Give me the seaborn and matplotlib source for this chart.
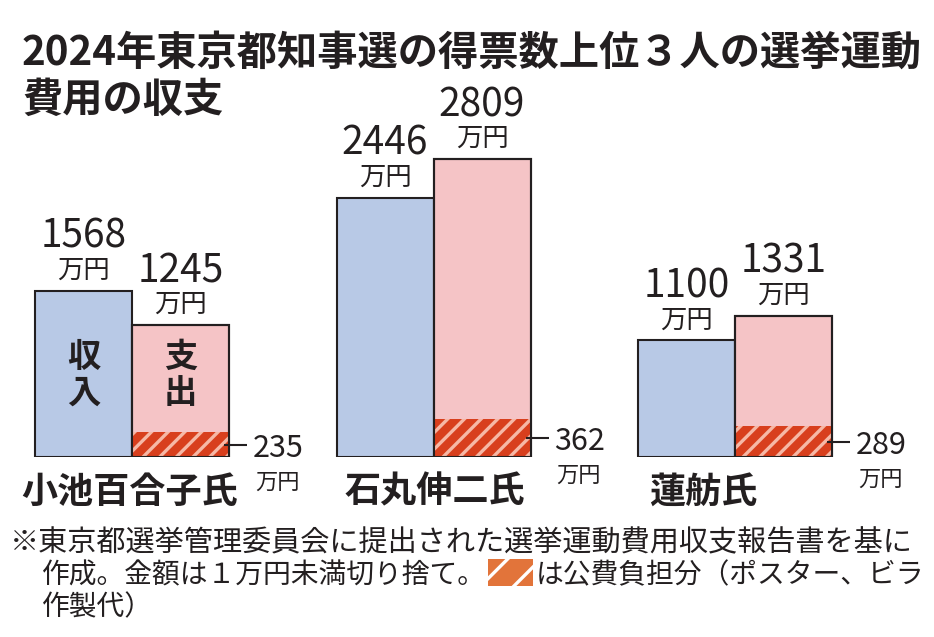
import numpy as np
import pandas as pd
import matplotlib.pyplot as plt
import seaborn as sns
from matplotlib.patches import Rectangle

# data (unit: 万円)
candidates = ["小池百合子氏", "石丸伸二氏", "蓮舫氏"]
kinds = ["収入", "支出"]
income = [1568, 2446, 1100]
expense = [1245, 2809, 1331]
public_funds = [235, 362, 289]

title_lines = ["2024年東京都知事選の得票数上位３人の選挙運動", "費用の収支"]
note_line1 = "※東京都選挙管理委員会に提出された選挙運動費用収支報告書を基に"
note_line2a = "作成。金額は１万円未満切り捨て。"
note_line2b = "は公費負担分（ポスター、ビラ"
note_line3 = "作製代）"

BLUE = "#b8c9e6"
PINK = "#f5c4c6"
RED = "#d83f1d"
STRIPE = "#f6b8a6"
ICON = "#e2743a"
INK = "#231f20"

sns.set_style("white")
plt.rcParams["font.family"] = ["Noto Sans CJK JP", "DejaVu Sans"]
plt.rcParams["hatch.linewidth"] = 2.4

df = pd.DataFrame({
    "candidate": candidates * 2,
    "kind": [kinds[0]] * len(candidates) + [kinds[1]] * len(candidates),
    "value": income + expense,
})

W, H = 934, 637
fig = plt.figure(figsize=(W / 100, H / 100), dpi=100)
fig.patch.set_facecolor("white")

# layout in pixels
base_px = 457        # baseline of the bars from the top
px_per_unit = 0.106  # vertical pixels per 万円
x_px = 301.5         # pixels between group centres
x0_px = 132          # first group centre
PT = 100 / 72        # pixels per point

ax = fig.add_axes([0, (H - base_px) / H, 1, base_px / H])
sns.barplot(
    data=df, x="candidate", y="value", hue="kind",
    order=candidates, hue_order=kinds,
    palette={kinds[0]: BLUE, kinds[1]: PINK}, saturation=1,
    width=2 * 97 / x_px, edgecolor=INK, linewidth=1.5,
    errorbar=None, legend=False, ax=ax,
)
ax.set_xlim(-x0_px / x_px, (W - x0_px) / x_px)
ax.set_ylim(0, base_px / px_per_unit)
ax.axis("off")

# value labels on top of every bar
for container in ax.containers:
    for bar in container:
        cx = bar.get_x() + bar.get_width() / 2
        top = bar.get_height()
        ax.annotate(f"{top:.0f}", (cx, top), xytext=(0, 43 / PT), textcoords="offset points",
                    ha="center", va="baseline", fontsize=28, color=INK)
        ax.annotate("万円", (cx, top), xytext=(0, 13 / PT), textcoords="offset points",
                    ha="center", va="baseline", fontsize=19, color=INK)

# hatched public-funded part of the expense bars
for bar, pub in zip(ax.containers[1], public_funds):
    left, width = bar.get_x(), bar.get_width()
    ax.bar(left, pub, width=width, align="edge", facecolor=RED, edgecolor=STRIPE,
           hatch="//", linewidth=0, zorder=3)
    ax.bar(left, bar.get_height(), width=width, align="edge", fill=False,
           edgecolor=INK, linewidth=1.5, zorder=4)
    right = left + width
    ymid = pub / 2
    ax.plot([right - 5 / x_px, right + 18 / x_px], [ymid, ymid], color=INK, lw=1.5,
            zorder=5, solid_capstyle="butt")
    ax.annotate(f"{pub}", (right, ymid), xytext=(24 / PT, 0), textcoords="offset points",
                ha="left", va="center_baseline", fontsize=22, color=INK)
    ax.annotate("万円", (right, ymid), xytext=(48 / PT, -35 / PT), textcoords="offset points",
                ha="center", va="center_baseline", fontsize=16, color=INK)

# bar captions inside the first group
for bar, word in zip([ax.containers[0][0], ax.containers[1][0]], kinds):
    ax.text(bar.get_x() + bar.get_width() / 2, 770, "\n".join(word), ha="center", va="center",
            fontsize=24, fontweight="bold", color=INK, linespacing=1.1, zorder=6)

# candidate names under the groups
name_dx = [-2, 1, -32]
for i, (name, dx) in enumerate(zip(candidates, name_dx)):
    ax.annotate(name, (i, 0), xytext=(dx / PT, -31 / PT), textcoords="offset points",
                ha="center", va="center_baseline", fontsize=26, fontweight="bold", color=INK,
                annotation_clip=False)

# title
fig.text(22 / W, 1 - 49 / H, title_lines[0], ha="left", va="center_baseline",
         fontsize=29, fontweight="bold", color=INK)
fig.text(22 / W, 1 - 96 / H, title_lines[1], ha="left", va="center_baseline",
         fontsize=29, fontweight="bold", color=INK)

# footnote
fig.text(10 / W, 1 - 540 / H, note_line1, ha="left", va="center_baseline", fontsize=21, color=INK)
t2a = fig.text(42 / W, 1 - 572 / H, note_line2a, ha="left", va="center_baseline", fontsize=20, color=INK)
fig.text(42 / W, 1 - 604 / H, note_line3, ha="left", va="center_baseline", fontsize=20, color=INK)

renderer = fig.canvas.get_renderer()
ext = t2a.get_window_extent(renderer)
icon_x0 = ext.x1 + 2
icon_w, icon_h = 45, 27
icon = Rectangle((icon_x0 / W, (H - 586) / H), icon_w / W, icon_h / H, transform=fig.transFigure,
                 facecolor=ICON, edgecolor="white", hatch="/", linewidth=0)
fig.patches.append(icon)
fig.text((icon_x0 + icon_w + 3) / W, 1 - 572 / H, note_line2b, ha="left", va="center_baseline",
         fontsize=20, color=INK)

fig.savefig("out.png", dpi=100, facecolor="white")
